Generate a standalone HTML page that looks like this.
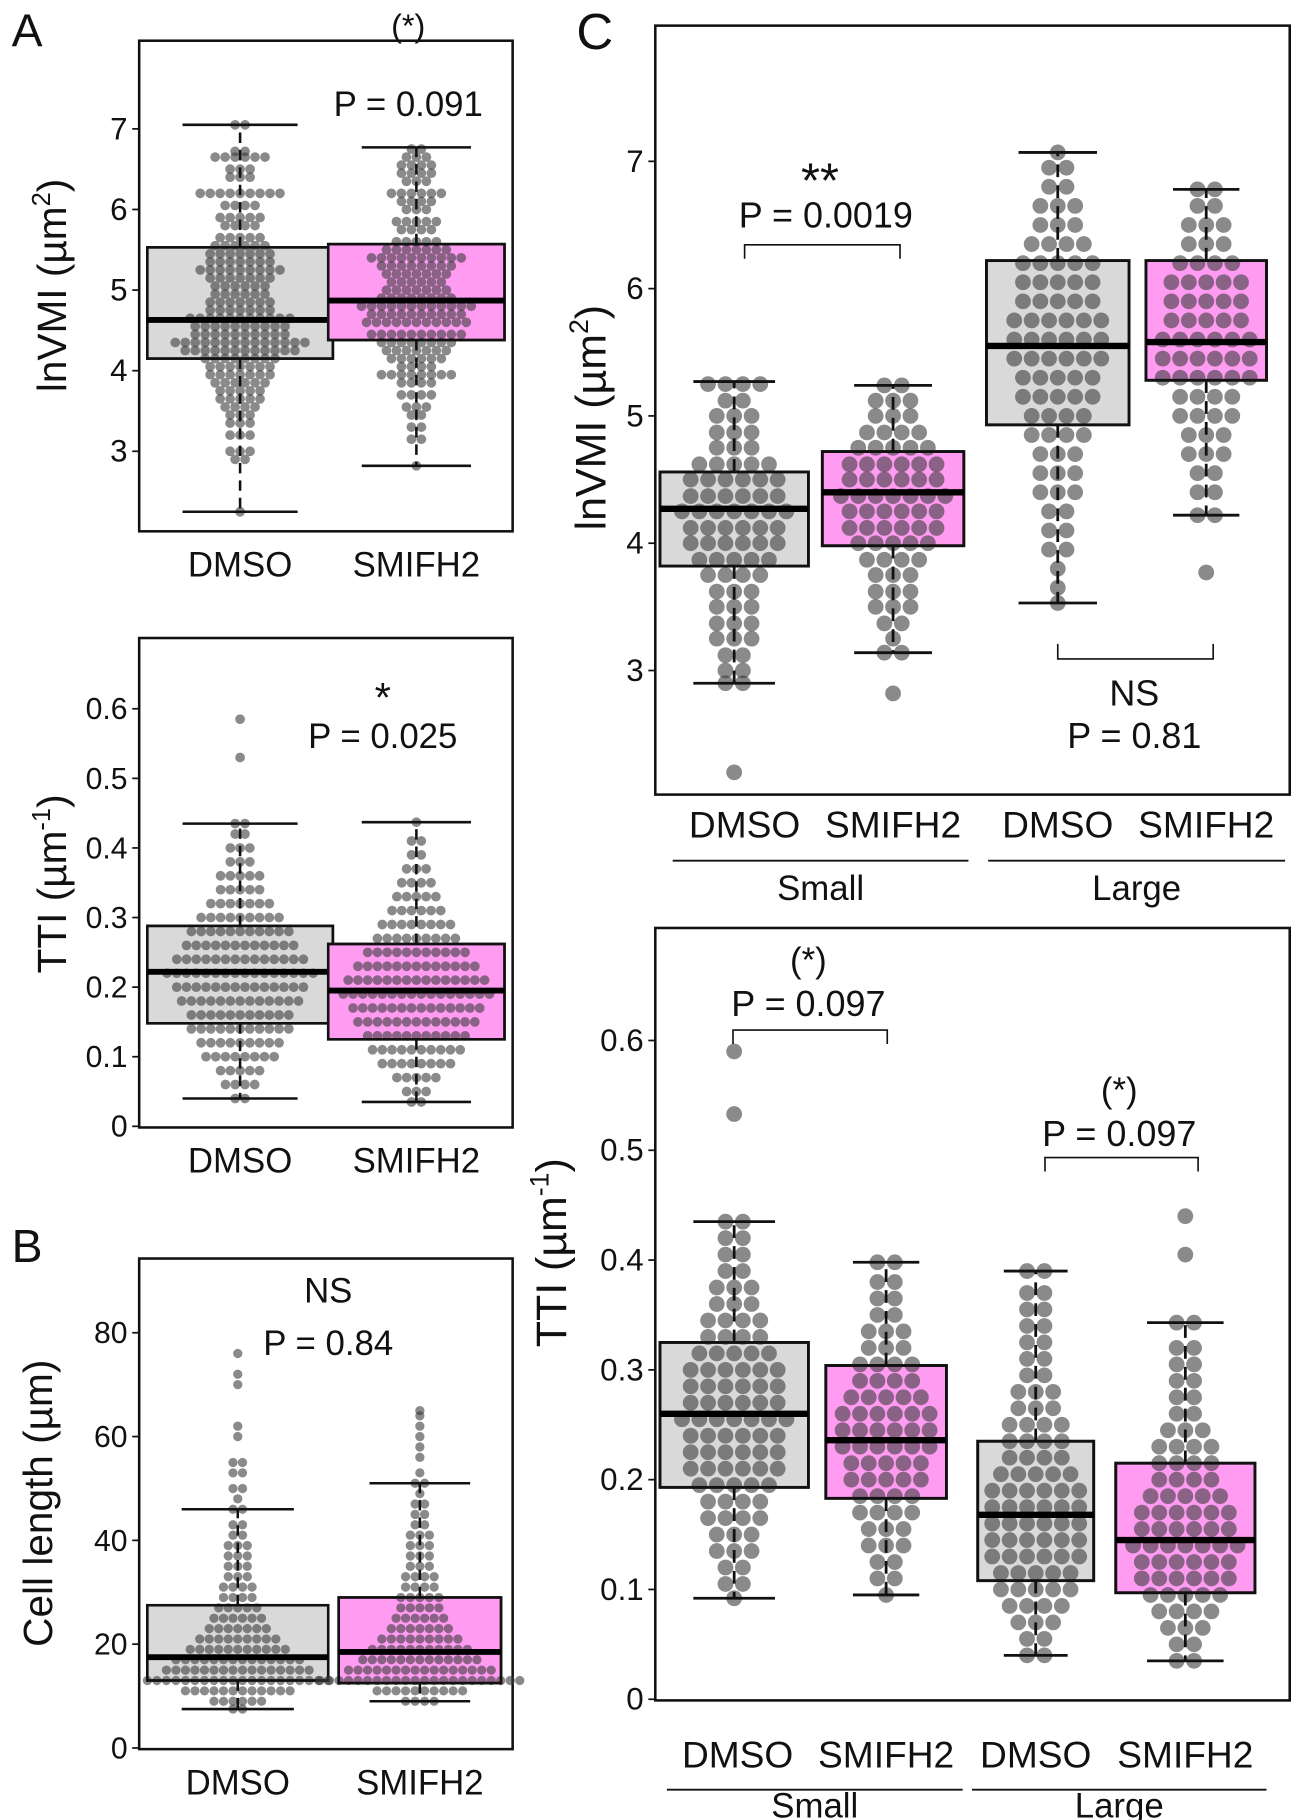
<!DOCTYPE html>
<html><head><meta charset="utf-8"><style>
html,body{margin:0;padding:0;background:#fff}
svg{display:block}
text{font-family:"Liberation Sans",Arial,sans-serif;fill:#111}
</style></head><body>
<svg id="fig" width="1299" height="1820" viewBox="0 0 1120 1569" xmlns="http://www.w3.org/2000/svg">
<text x="10" y="40" font-size="40">A</text>
<text x="10" y="1088" font-size="40">B</text>
<text x="497" y="42" font-size="44">C</text>
</svg>
<script>
// ---- data (row value + number of dots in that swarm row) ----
const groupNames = ["DMSO","SMIFH2"];
const sizeNames = ["Small","Large"];
const aVmiDmsoVals = [2.25,2.9,3.0,3.2,3.35,3.45,3.55,3.65,3.75,3.85,3.95,4.05,4.15,4.25,4.35,4.45,4.55,4.65,4.75,4.85,4.95,5.05,5.15,5.25,5.35,5.45,5.55,5.65,5.8,5.9,6.05,6.2,6.4,6.5,6.65,6.72,7.05];
const aVmiDmsoCounts = [1,2,3,3,3,3,4,5,5,6,7,7,8,12,14,10,10,11,7,7,6,6,7,9,7,7,6,5,4,5,4,9,3,3,6,2,2];
const aVmiSmiVals = [2.82,3.15,3.3,3.45,3.55,3.7,3.85,3.95,4.05,4.15,4.25,4.35,4.45,4.6,4.7,4.8,4.9,5.0,5.1,5.2,5.3,5.4,5.5,5.6,5.75,5.85,6.0,6.1,6.2,6.35,6.45,6.55,6.65,6.75];
const aVmiSmiCounts = [1,2,2,2,3,4,4,8,4,6,7,8,10,11,10,12,8,7,6,7,8,10,7,5,4,5,3,4,6,3,4,4,3,2];
const aVmiStats = [[2.25,4.15,4.63,5.53,7.05],[2.82,4.38,4.87,5.57,6.77]];
const aVmiTicks = [3,4,5,6,7];
const aTtiDmsoVals = [0.04,0.06,0.08,0.10,0.12,0.14,0.16,0.18,0.20,0.22,0.24,0.26,0.28,0.30,0.32,0.34,0.36,0.38,0.40,0.42,0.435,0.53,0.585];
const aTtiDmsoCounts = [2,4,5,8,9,11,11,13,14,16,14,12,11,9,7,5,5,3,3,2,2,1,1];
const aTtiSmiVals = [0.035,0.05,0.07,0.09,0.11,0.13,0.15,0.17,0.19,0.21,0.23,0.25,0.27,0.29,0.31,0.33,0.35,0.37,0.39,0.41,0.437];
const aTtiSmiCounts = [2,3,5,8,10,11,13,14,16,15,13,11,9,8,6,5,4,3,2,2,1];
const aTtiStats = [[0.04,0.148,0.222,0.288,0.435],[0.035,0.125,0.195,0.262,0.437]];
const ttiTicks = [0,0.1,0.2,0.3,0.4,0.5,0.6];
const bLenDmsoVals = [7.5,9,11,13,15,17,19,21,23,25,27,29,31,33,35,37,39,41,43,46,48,50,53,55,60,62,70,72,76];
const bLenDmsoCounts = [2,6,12,20,16,14,11,9,7,6,5,4,4,3,3,3,3,2,2,2,1,2,2,2,1,1,1,1,1];
const bLenSmiVals = [9,11,13,15,17,19,21,23,25,27,29,31,33,35,37,39,41,43,45,47,49,51,53,56,58,60,62,64,65];
const bLenSmiCounts = [4,10,22,16,13,11,9,7,6,5,5,4,4,3,3,3,3,2,2,2,1,2,1,1,1,1,1,1,1];
const bLenStats = [[7.5,13,17.5,27.5,46],[9,12.5,18.5,29,51]];
const bLenTicks = [0,20,40,60,80];
const cVmiSmallDmsoVals = [2.2,2.9,3.0,3.12,3.25,3.37,3.5,3.62,3.75,3.87,4.0,4.12,4.25,4.37,4.5,4.62,4.75,4.87,5.0,5.12,5.25];
const cVmiSmallDmsoCounts = [1,2,2,2,3,3,3,3,4,5,6,6,7,6,6,5,3,3,3,2,4];
const cVmiSmallSmiVals = [2.82,3.14,3.25,3.37,3.5,3.62,3.75,3.87,4.0,4.12,4.25,4.37,4.5,4.62,4.75,4.87,5.0,5.12,5.24];
const cVmiSmallSmiCounts = [1,2,1,2,3,3,3,4,5,6,6,7,6,6,5,4,3,3,2];
const cVmiLargeDmsoVals = [3.53,3.65,3.8,3.95,4.1,4.25,4.4,4.55,4.7,4.85,5.0,5.15,5.3,5.45,5.6,5.75,5.9,6.05,6.2,6.35,6.5,6.65,6.8,6.95,7.07];
const cVmiLargeDmsoCounts = [1,1,1,2,2,2,3,3,3,4,4,5,5,6,6,6,5,5,5,4,3,3,2,2,1];
const cVmiLargeSmiVals = [3.77,4.22,4.4,4.55,4.7,4.85,5.0,5.15,5.3,5.45,5.6,5.75,5.9,6.05,6.2,6.35,6.5,6.65,6.78];
const cVmiLargeSmiCounts = [1,2,2,2,3,3,4,4,6,6,6,5,5,5,4,3,3,2,2];
const cVmiStats = [[2.9,3.82,4.27,4.56,5.27],[3.14,3.98,4.4,4.72,5.24],[3.53,4.93,5.55,6.22,7.07],[4.22,5.28,5.58,6.22,6.78]];
const cTtiSmallDmsoVals = [0.092,0.105,0.12,0.135,0.15,0.165,0.18,0.195,0.21,0.225,0.24,0.255,0.27,0.285,0.3,0.315,0.33,0.345,0.36,0.375,0.39,0.405,0.42,0.435,0.533,0.59];
const cTtiSmallDmsoCounts = [1,2,2,3,3,4,4,5,6,6,6,7,6,6,6,5,4,4,3,3,2,2,2,2,1,1];
const cTtiSmallSmiVals = [0.095,0.11,0.125,0.14,0.155,0.17,0.185,0.2,0.215,0.23,0.245,0.26,0.275,0.29,0.305,0.32,0.335,0.35,0.365,0.38,0.398];
const cTtiSmallSmiCounts = [1,2,2,3,3,4,4,5,5,6,6,6,5,4,4,3,3,2,2,2,2];
const cTtiLargeDmsoVals = [0.04,0.055,0.07,0.085,0.1,0.115,0.13,0.145,0.16,0.175,0.19,0.205,0.22,0.235,0.25,0.265,0.28,0.295,0.31,0.325,0.34,0.355,0.37,0.39];
const cTtiLargeDmsoCounts = [2,2,3,4,5,5,6,6,6,6,6,5,4,4,4,3,3,2,2,2,2,2,2,2];
const cTtiLargeSmiVals = [0.035,0.05,0.065,0.08,0.095,0.11,0.125,0.14,0.155,0.17,0.185,0.2,0.215,0.23,0.245,0.26,0.275,0.29,0.305,0.32,0.343,0.405,0.44];
const cTtiLargeSmiCounts = [2,2,3,4,5,6,6,7,6,6,5,4,4,4,3,2,2,2,2,2,2,1,1];
const cTtiStats = [[0.092,0.193,0.26,0.325,0.435],[0.095,0.183,0.236,0.304,0.398],[0.04,0.108,0.168,0.235,0.39],[0.035,0.097,0.145,0.215,0.343]];

// ---- rendering ----
const NS = "http://www.w3.org/2000/svg";
const svg = document.getElementById('fig');
function mk(tag, attrs, parent){const e=document.createElementNS(NS,tag);for(const k in attrs)e.setAttribute(k,attrs[k]);(parent||svg).appendChild(e);return e;}
function txt(s,x,y,size,anchor,parent){const t=mk('text',{x:x,y:y,'font-size':size,'text-anchor':anchor||'middle'},parent);t.textContent=s;return t;}
const GRAY='#d9d9d9', PINK='#ff9cf2';

function panel(p){
  const g=mk('g',{});
  
  
  const yScale=v=>p.pa+(v-p.va)*(p.pb-p.pa)/(p.vb-p.va);
  const fr=mk('rect',{x:p.fx0,y:p.fy0,width:p.fx1-p.fx0,height:p.fy1-p.fy0,fill:'none',stroke:'#111','stroke-width':2.2},g);
  
  
  const tg=mk('g',{},g);
  
  
  p.ticks.forEach(v=>{
    const y=yScale(v);
    mk('line',{x1:p.fx0-6,x2:p.fx0,y1:y,y2:y,stroke:'#111','stroke-width':1.5},tg);
    const t=txt(p.fmt(v),p.fx0-10,y+9,p.tickSize,'end',tg);
    
    
  });
  p.groups.forEach((gr,i)=>{
    const st=gr.stats, cx=gr.cx, w=gr.w;
    const bg=mk('g',{},g);
    
    
    const b=mk('rect',{x:cx-w/2,y:yScale(st[3]),width:w,height:yScale(st[1])-yScale(st[3]),fill:gr.fill,stroke:'#111','stroke-width':p.lw},bg);
    
    
    const sw=mk('g',{},bg);
    
    
    gr.vals.forEach((v,k)=>{
      const n=gr.counts[k], y=yScale(v);
      for(let j=0;j<n;j++){
        const c=mk('circle',{cx:cx+(j-(n-1)/2)*p.sp,cy:y,r:p.r,fill:'#3c3c3c','fill-opacity':0.6},sw);
        
        
      }
    });
    const cap=w*p.capF;
    mk('line',{x1:cx,x2:cx,y1:yScale(st[3]),y2:yScale(st[4]),stroke:'#111','stroke-width':p.lw,'stroke-dasharray':p.dash},bg);
    mk('line',{x1:cx,x2:cx,y1:yScale(st[1]),y2:yScale(st[0]),stroke:'#111','stroke-width':p.lw,'stroke-dasharray':p.dash},bg);
    mk('line',{x1:cx-cap/2,x2:cx+cap/2,y1:yScale(st[4]),y2:yScale(st[4]),stroke:'#111','stroke-width':p.lw},bg);
    mk('line',{x1:cx-cap/2,x2:cx+cap/2,y1:yScale(st[0]),y2:yScale(st[0]),stroke:'#111','stroke-width':p.lw},bg);
    mk('rect',{x:cx-w/2,y:yScale(st[3]),width:w,height:yScale(st[1])-yScale(st[3]),fill:'none',stroke:'#111','stroke-width':p.lw},bg);
    const m=mk('line',{x1:cx-w/2,x2:cx+w/2,y1:yScale(st[2]),y2:yScale(st[2]),stroke:'#000','stroke-width':p.lw*2.3},bg);
    
    
    const xl=txt(groupNames[i%2],gr.lx||cx,p.xlY,p.xlSize,'middle',g);
    
    
  });
  const yt=mk('text',{transform:`translate(${p.ytX},${p.ytY}) rotate(-90)`,'font-size':p.ytSize,'text-anchor':'middle'},g);
  yt.innerHTML=p.ytHtml;
  
  
  return g;
}
const f1=v=>String(v), f01=v=>v===0?'0':v.toFixed(1);
panel({name:'panel-a-lnvmi',fx0:120,fy0:35,fx1:442,fy1:458,va:3,pa:389,vb:7,pb:111,ticks:aVmiTicks,fmt:f1,tickSize:27,r:4.2,sp:8.6,lw:2.2,dash:'9,6',capF:0.62,
  groups:[{id:'box-dmso',cx:207,w:160,fill:GRAY,stats:aVmiStats[0],vals:aVmiDmsoVals,counts:aVmiDmsoCounts},{id:'box-smifh2',cx:359,w:152,fill:PINK,stats:aVmiStats[1],vals:aVmiSmiVals,counts:aVmiSmiCounts}],
  xlY:497,xlSize:30,ytX:57,ytY:246,ytSize:35,ytHtml:'lnVMI (µm<tspan dy="-14" font-size="22">2</tspan><tspan dy="14">)</tspan>'});
panel({name:'panel-a-tti',fx0:120,fy0:550,fx1:442,fy1:972,va:0,pa:971,vb:0.6,pb:611,ticks:ttiTicks,fmt:f01,tickSize:26,r:4.2,sp:8.4,lw:2.2,dash:'9,6',capF:0.62,
  groups:[{id:'box-dmso',cx:207,w:160,fill:GRAY,stats:aTtiStats[0],vals:aTtiDmsoVals,counts:aTtiDmsoCounts},{id:'box-smifh2',cx:359,w:152,fill:PINK,stats:aTtiStats[1],vals:aTtiSmiVals,counts:aTtiSmiCounts}],
  xlY:1011,xlSize:30,ytX:57,ytY:762,ytSize:35,ytHtml:'TTI (µm<tspan dy="-14" font-size="22">-1</tspan><tspan dy="14">)</tspan>'});
panel({name:'panel-b-cell-length',fx0:120,fy0:1085,fx1:442,fy1:1508,va:0,pa:1507,vb:80,pb:1149,ticks:bLenTicks,fmt:f1,tickSize:26,r:4.0,sp:8.2,lw:2.2,dash:'9,6',capF:0.62,
  groups:[{id:'box-dmso',cx:205,w:156,fill:GRAY,stats:bLenStats[0],vals:bLenDmsoVals,counts:bLenDmsoCounts},{id:'box-smifh2',cx:362,w:140,fill:PINK,stats:bLenStats[1],vals:bLenSmiVals,counts:bLenSmiCounts}],
  xlY:1547,xlSize:30,ytX:45,ytY:1296,ytSize:35,ytHtml:'Cell length (µm)'});
panel({name:'panel-c-lnvmi',fx0:565,fy0:22,fx1:1112,fy1:685,va:3,pa:578,vb:7,pb:139,ticks:aVmiTicks,fmt:f1,tickSize:27,r:6.8,sp:15,lw:2.4,dash:'11,7',capF:0.55,
  groups:[{id:'box-small-dmso',cx:633,w:128,fill:GRAY,stats:cVmiStats[0],vals:cVmiSmallDmsoVals,counts:cVmiSmallDmsoCounts,lx:642},{id:'box-small-smifh2',cx:770,w:122,fill:PINK,stats:cVmiStats[1],vals:cVmiSmallSmiVals,counts:cVmiSmallSmiCounts},
          {id:'box-large-dmso',cx:912,w:123,fill:GRAY,stats:cVmiStats[2],vals:cVmiLargeDmsoVals,counts:cVmiLargeDmsoCounts},{id:'box-large-smifh2',cx:1040,w:104,fill:PINK,stats:cVmiStats[3],vals:cVmiLargeSmiVals,counts:cVmiLargeSmiCounts}],
  xlY:722,xlSize:32,ytX:522,ytY:360,ytSize:37,ytHtml:'lnVMI (µm<tspan dy="-15" font-size="23">2</tspan><tspan dy="15">)</tspan>'});
panel({name:'panel-c-tti',fx0:565,fy0:800,fx1:1112,fy1:1466,va:0,pa:1465,vb:0.6,pb:897,ticks:ttiTicks,fmt:f01,tickSize:27,r:6.8,sp:15,lw:2.4,dash:'11,7',capF:0.55,
  groups:[{id:'box-small-dmso',cx:633,w:128,fill:GRAY,stats:cTtiStats[0],vals:cTtiSmallDmsoVals,counts:cTtiSmallDmsoCounts,lx:636},{id:'box-small-smifh2',cx:764,w:104,fill:PINK,stats:cTtiStats[1],vals:cTtiSmallSmiVals,counts:cTtiSmallSmiCounts},
          {id:'box-large-dmso',cx:893,w:100,fill:GRAY,stats:cTtiStats[2],vals:cTtiLargeDmsoVals,counts:cTtiLargeDmsoCounts},{id:'box-large-smifh2',cx:1022,w:120,fill:PINK,stats:cTtiStats[3],vals:cTtiLargeSmiVals,counts:cTtiLargeSmiCounts}],
  xlY:1524,xlSize:32,ytX:488,ytY:1080,ytSize:37,ytHtml:'TTI (µm<tspan dy="-15" font-size="23">-1</tspan><tspan dy="15">)</tspan>'});

function ann(s,x,y,size,name){const t=txt(s,x,y,size,'middle');}
ann('(*)',352,32,28,'significance-a-lnvmi');ann('P = 0.091',352,100,30,'p-value-a-lnvmi');
ann('*',330,614,36,'significance-a-tti');ann('P = 0.025',330,645,30,'p-value-a-tti');
ann('NS',283,1123,30,'significance-b');ann('P = 0.84',283,1168,30,'p-value-b');
ann('**',707,170,42,'significance-c-small-lnvmi');ann('P = 0.0019',712,196,31,'p-value-c-small-lnvmi');
ann('NS',978,608,31,'significance-c-large-lnvmi');ann('P = 0.81',978,645,31,'p-value-c-large-lnvmi');
ann('(*)',697,838,30,'significance-c-small-tti');ann('P = 0.097',697,876,31,'p-value-c-small-tti');
ann('(*)',965,950,30,'significance-c-large-tti');ann('P = 0.097',965,988,31,'p-value-c-large-tti');
function bracket(x1,x2,y,dy,name){const p=mk('path',{d:`M${x1},${y+dy}V${y}H${x2}V${y+dy}`,fill:'none',stroke:'#111','stroke-width':1.4});}
bracket(642,776,211,12,'bracket-c-small-lnvmi');bracket(912,1046,568,-13,'bracket-c-large-lnvmi');
bracket(632,765,888,12,'bracket-c-small-tti');bracket(901,1033,998,12,'bracket-c-large-tti');
function grp(x1,x2,y,label,name,dy){mk('line',{x1:x1,x2:x2,y1:y,y2:y,stroke:'#111','stroke-width':1.6});const t=txt(label,(x1+x2)/2,y+dy,30,'middle');}
grp(580,835,742,sizeNames[0],'group-label-small-top',34);grp(852,1108,742,sizeNames[1],'group-label-large-top',34);
grp(575,830,1543,sizeNames[0],'group-label-small-bottom',24);grp(838,1092,1543,sizeNames[1],'group-label-large-bottom',24);
</script>
</body></html>
